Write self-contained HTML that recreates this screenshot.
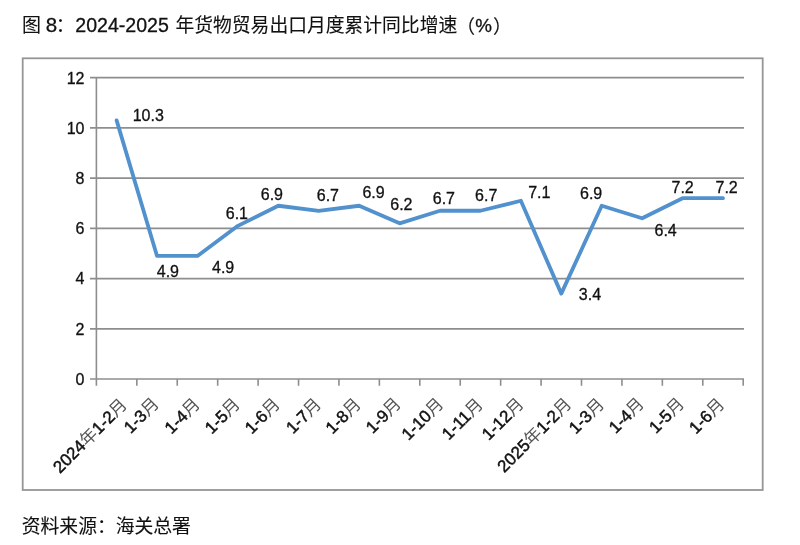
<!DOCTYPE html><html><head><meta charset="utf-8"><style>html,body{margin:0;padding:0;background:#fff;overflow:hidden;}svg{display:block;}text{font-family:"Liberation Sans","Noto Sans CJK SC",sans-serif;stroke-width:0.30px;}.c{stroke-width:0.10px;}.x{stroke-width:0.45px;}</style></head><body>
<svg width="800" height="545" viewBox="0 0 800 545">
<text class="c" x="22.00" y="32.00" font-size="19.00" fill="#111" stroke="#111">图</text>
<text x="45.75" y="32.00" font-size="20.50" fill="#111" stroke="#111">8</text>
<text class="c" x="55.75" y="32.00" font-size="19.00" fill="#111" stroke="#111">：</text>
<text x="75.25" y="32.00" font-size="20.50" fill="#111" stroke="#111" textLength="93.65" lengthAdjust="spacingAndGlyphs">2024-2025</text>
<text class="c" x="175.50" y="32.00" font-size="18.80" fill="#111" stroke="#111">年货物贸易出口月度累计同比增速</text>
<text class="c" x="456.30" y="34.00" font-size="18.80" fill="#111" stroke="#111">（</text>
<text x="475.20" y="32.00" font-size="18.80" fill="#111" stroke="#111">%</text>
<text class="c" x="493.00" y="34.00" font-size="18.80" fill="#111" stroke="#111">）</text>
<rect x="22.7" y="58.3" width="740" height="431.7" fill="none" stroke="#969696" stroke-width="1.8"/>
<path d="M90 379.00H744.00M90 328.78H744.00M90 278.57H744.00M90 228.35H744.00M90 178.13H744.00M90 127.92H744.00M90 77.70H744.00" stroke="#8e8e8e" stroke-width="1.7" fill="none"/>
<path d="M96.40 76.90V385.8" stroke="#8e8e8e" stroke-width="1.6" fill="none"/>
<path d="M136.83 379.00V385.8M177.25 379.00V385.8M217.68 379.00V385.8M258.10 379.00V385.8M298.53 379.00V385.8M338.95 379.00V385.8M379.38 379.00V385.8M419.80 379.00V385.8M460.23 379.00V385.8M500.65 379.00V385.8M541.08 379.00V385.8M581.50 379.00V385.8M621.93 379.00V385.8M662.35 379.00V385.8M702.78 379.00V385.8M743.20 379.00V385.8" stroke="#8e8e8e" stroke-width="1.6" fill="none"/>
<text x="84.50" y="384.80" font-size="16.00" text-anchor="end" fill="#111" stroke="#111">0</text>
<text x="84.50" y="334.58" font-size="16.00" text-anchor="end" fill="#111" stroke="#111">2</text>
<text x="84.50" y="284.37" font-size="16.00" text-anchor="end" fill="#111" stroke="#111">4</text>
<text x="84.50" y="234.15" font-size="16.00" text-anchor="end" fill="#111" stroke="#111">6</text>
<text x="84.50" y="183.93" font-size="16.00" text-anchor="end" fill="#111" stroke="#111">8</text>
<text x="84.50" y="133.72" font-size="16.00" text-anchor="end" fill="#111" stroke="#111">10</text>
<text x="84.50" y="83.50" font-size="16.00" text-anchor="end" fill="#111" stroke="#111">12</text>
<polyline points="116.61,120.38 157.04,255.97 197.46,255.97 237.89,225.84 278.31,205.75 318.74,210.77 359.16,205.75 399.59,223.33 440.01,210.77 480.44,210.77 520.86,200.73 561.29,293.63 601.71,205.75 642.14,218.31 682.56,198.22 722.99,198.22" fill="none" stroke="#5191cd" stroke-width="3.80" stroke-linejoin="round" stroke-linecap="round"/>
<text x="132.70" y="121.10" font-size="16.00" fill="#111" stroke="#111">10.3</text>
<text x="156.75" y="276.80" font-size="16.00" fill="#111" stroke="#111">4.9</text>
<text x="212.00" y="273.10" font-size="16.00" fill="#111" stroke="#111">4.9</text>
<text x="225.75" y="219.30" font-size="16.00" fill="#111" stroke="#111">6.1</text>
<text x="260.75" y="200.30" font-size="16.00" fill="#111" stroke="#111">6.9</text>
<text x="316.75" y="200.80" font-size="16.00" fill="#111" stroke="#111">6.7</text>
<text x="362.40" y="198.15" font-size="16.00" fill="#111" stroke="#111">6.9</text>
<text x="390.25" y="210.20" font-size="16.00" fill="#111" stroke="#111">6.2</text>
<text x="432.75" y="204.30" font-size="16.00" fill="#111" stroke="#111">6.7</text>
<text x="475.10" y="201.10" font-size="16.00" fill="#111" stroke="#111">6.7</text>
<text x="528.20" y="197.70" font-size="16.00" fill="#111" stroke="#111">7.1</text>
<text x="578.80" y="300.10" font-size="16.00" fill="#111" stroke="#111">3.4</text>
<text x="580.00" y="199.30" font-size="16.00" fill="#111" stroke="#111">6.9</text>
<text x="654.50" y="236.15" font-size="16.00" fill="#111" stroke="#111">6.4</text>
<text x="671.50" y="192.60" font-size="16.00" fill="#111" stroke="#111">7.2</text>
<text x="715.50" y="192.60" font-size="16.00" fill="#111" stroke="#111">7.2</text>
<text class="x" transform="translate(128.11 405.75) rotate(-45)" font-size="17.00" text-anchor="end" fill="#111" stroke="#111">2024<tspan fill="#555555" stroke="none">年</tspan>1-2<tspan fill="#555555" stroke="none">月</tspan></text>
<text class="x" transform="translate(160.04 404.75) rotate(-45)" font-size="17.00" text-anchor="end" fill="#111" stroke="#111">1-3<tspan fill="#555555" stroke="none">月</tspan></text>
<text class="x" transform="translate(200.96 405.25) rotate(-45)" font-size="17.00" text-anchor="end" fill="#111" stroke="#111">1-4<tspan fill="#555555" stroke="none">月</tspan></text>
<text class="x" transform="translate(241.14 405.25) rotate(-45)" font-size="17.00" text-anchor="end" fill="#111" stroke="#111">1-5<tspan fill="#555555" stroke="none">月</tspan></text>
<text class="x" transform="translate(281.06 405.25) rotate(-45)" font-size="17.00" text-anchor="end" fill="#111" stroke="#111">1-6<tspan fill="#555555" stroke="none">月</tspan></text>
<text class="x" transform="translate(322.34 405.20) rotate(-45)" font-size="17.00" text-anchor="end" fill="#111" stroke="#111">1-7<tspan fill="#555555" stroke="none">月</tspan></text>
<text class="x" transform="translate(361.91 405.25) rotate(-45)" font-size="17.00" text-anchor="end" fill="#111" stroke="#111">1-8<tspan fill="#555555" stroke="none">月</tspan></text>
<text class="x" transform="translate(402.09 404.75) rotate(-45)" font-size="17.00" text-anchor="end" fill="#111" stroke="#111">1-9<tspan fill="#555555" stroke="none">月</tspan></text>
<text class="x" transform="translate(444.51 405.00) rotate(-45)" font-size="17.00" text-anchor="end" fill="#111" stroke="#111">1-10<tspan fill="#555555" stroke="none">月</tspan></text>
<text class="x" transform="translate(483.94 405.50) rotate(-45)" font-size="17.00" text-anchor="end" fill="#111" stroke="#111">1-11<tspan fill="#555555" stroke="none">月</tspan></text>
<text class="x" transform="translate(524.86 405.00) rotate(-45)" font-size="17.00" text-anchor="end" fill="#111" stroke="#111">1-12<tspan fill="#555555" stroke="none">月</tspan></text>
<text class="x" transform="translate(572.54 405.00) rotate(-45)" font-size="17.00" text-anchor="end" fill="#111" stroke="#111">2025<tspan fill="#555555" stroke="none">年</tspan>1-2<tspan fill="#555555" stroke="none">月</tspan></text>
<text class="x" transform="translate(605.21 405.25) rotate(-45)" font-size="17.00" text-anchor="end" fill="#111" stroke="#111">1-3<tspan fill="#555555" stroke="none">月</tspan></text>
<text class="x" transform="translate(645.14 404.75) rotate(-45)" font-size="17.00" text-anchor="end" fill="#111" stroke="#111">1-4<tspan fill="#555555" stroke="none">月</tspan></text>
<text class="x" transform="translate(685.31 404.75) rotate(-45)" font-size="17.00" text-anchor="end" fill="#111" stroke="#111">1-5<tspan fill="#555555" stroke="none">月</tspan></text>
<text class="x" transform="translate(725.49 405.25) rotate(-45)" font-size="17.00" text-anchor="end" fill="#111" stroke="#111">1-6<tspan fill="#555555" stroke="none">月</tspan></text>
<text class="c" x="21.80" y="533.00" font-size="18.80" fill="#111" stroke="#111">资料来源：海关总署</text>
</svg></body></html>
